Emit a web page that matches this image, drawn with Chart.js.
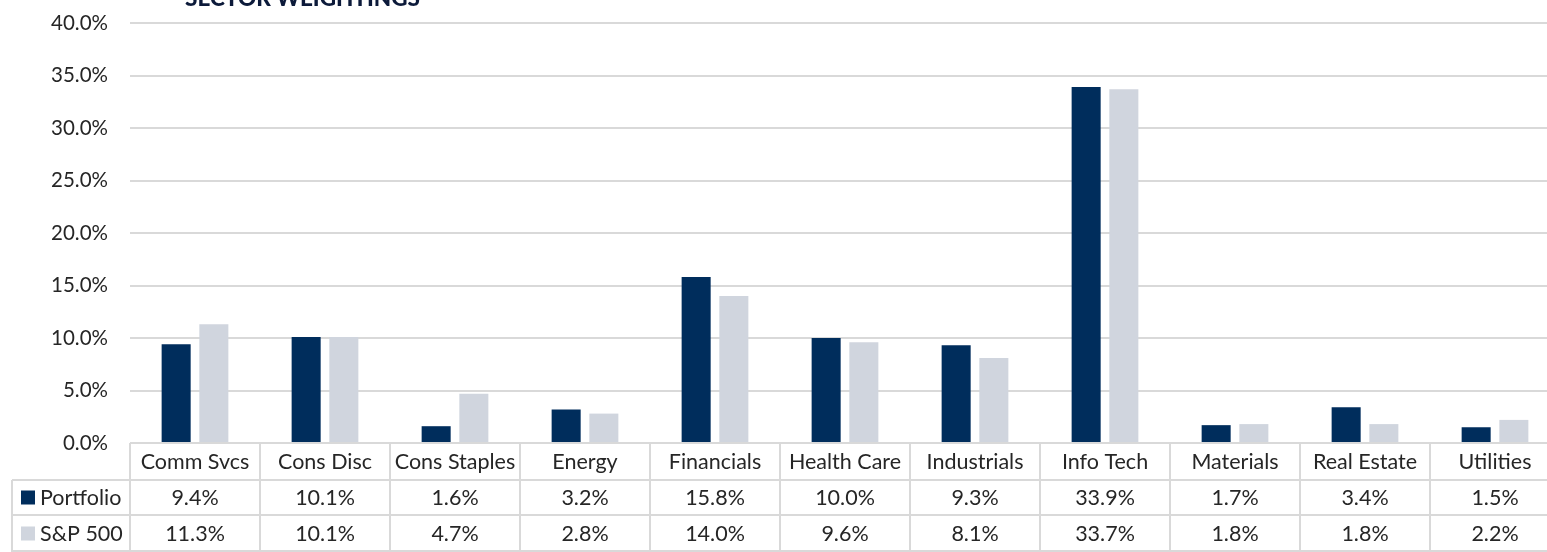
<!DOCTYPE html>
<html>
<head>
<meta charset="utf-8">
<script src="https://cdn.jsdelivr.net/npm/chart.js@4"></script>
<style>
    html, body { margin: 0; padding: 0; background: #fff; overflow: hidden; }
    #wrap { position: relative; width: 1560px; height: 552px; }
</style>
</head>
<body>
<div id="wrap"><canvas id="sector-chart"></canvas></div>
<script>
var sectors = ['Comm Svcs', 'Cons Disc', 'Cons Staples', 'Energy', 'Financials', 'Health Care',
    'Industrials', 'Info Tech', 'Materials', 'Real Estate', 'Utilities'];
var portfolio = [9.4, 10.1, 1.6, 3.2, 15.8, 10.0, 9.3, 33.9, 1.7, 3.4, 1.5];
var sp500 = [11.3, 10.1, 4.7, 2.8, 14.0, 9.6, 8.1, 33.7, 1.8, 1.8, 2.2];
var seriesNames = ['Portfolio', 'S&P 500'];
var seriesColors = ['#002d5c', '#d0d5de'];

var FONT = 'Lato, "Liberation Sans", sans-serif';
var GRID = '#d9d9d9';

// data table under the plot, drawn from the same arrays and x scale
var tablePlugin = {
    id: 'dataTable',
    afterDraw: function(chart) {
        var ctx = chart.ctx;
        var xs = chart.scales.x;
        var area = chart.chartArea;
        var half = (xs.getPixelForValue(1) - xs.getPixelForValue(0)) / 2;
        var rowTop = [area.bottom, 480, 515];
        var rowBot = [480, 515, 552];
        var left = 12;

        ctx.save();
        ctx.strokeStyle = GRID;
        ctx.lineWidth = 2;
        ctx.beginPath();
        // horizontal lines
        [480, 515, 551].forEach(function(y) {
            ctx.moveTo(left, y); ctx.lineTo(area.right, y);
        });
        // vertical lines
        ctx.moveTo(left, 480); ctx.lineTo(left, 552);
        for (var i = 0; i <= sectors.length; i++) {
            var x = xs.getPixelForValue(i) - half;
            ctx.moveTo(x, area.bottom); ctx.lineTo(x, 552);
        }
        ctx.stroke();

        ctx.fillStyle = '#262626';
        ctx.font = '21.5px ' + FONT;
        ctx.textAlign = 'center';
        ctx.textBaseline = 'middle';
        var rows = [portfolio, sp500];
        sectors.forEach(function(s, i) {
            var cx = xs.getPixelForValue(i);
            ctx.fillText(s, cx, (rowTop[0] + rowBot[0]) / 2 + 1);
            rows.forEach(function(r, k) {
                ctx.fillText(r[i].toFixed(1) + '%', cx, (rowTop[k + 1] + rowBot[k + 1]) / 2 + 1);
            });
        });

        // legend keys in the first column
        ctx.textAlign = 'left';
        seriesNames.forEach(function(n, k) {
            var cy = (rowTop[k + 1] + rowBot[k + 1]) / 2;
            ctx.fillStyle = seriesColors[k];
            ctx.fillRect(21, cy - 7, 14, 14);
            ctx.fillStyle = '#262626';
            ctx.fillText(n, 40, cy + 1);
        });

        // title, mostly cut off at the top
        ctx.fillStyle = '#0c1a3a';
        ctx.font = '900 22.5px ' + FONT;
        ctx.textBaseline = 'alphabetic';
        ctx.fillText('SECTOR WEIGHTINGS', 185, 6);
        ctx.restore();
    }
};

var sc = document.getElementById('sector-chart');

var sectorChart = new Chart(sc, {
    type: 'bar',
    data: {
        labels: sectors,
        datasets: [{
            label: seriesNames[0],
            data: portfolio,
            backgroundColor: seriesColors[0],
            categoryPercentage: 0.58,
            barPercentage: 0.77
        },
        {
            label: seriesNames[1],
            data: sp500,
            backgroundColor: seriesColors[1],
            categoryPercentage: 0.58,
            barPercentage: 0.77
        }]
    },
    options: {
        responsive: true,
        maintainAspectRatio: false,
        animation: false,
        layout: {
            padding: { top: 23, bottom: 109, left: 0, right: 0 }
        },
        plugins: {
            legend: { display: false },
            tooltip: { enabled: false }
        },
        scales: {
            x: {
                display: false
            },
            y: {
                min: 0,
                max: 40,
                border: { display: false },
                grid: { color: GRID, lineWidth: 2, drawTicks: false },
                ticks: {
                    stepSize: 5,
                    padding: 22,
                    color: '#262626',
                    font: { family: FONT, size: 20.5 },
                    callback: function(v) { return v.toFixed(1) + '%'; }
                },
                afterFit: function(scale) {
                    scale.width = 130;
                    scale.paddingTop = 0;
                    scale.paddingBottom = 0;
                }
            }
        }
    },
    plugins: [tablePlugin]
});
</script>
</body>
</html>
